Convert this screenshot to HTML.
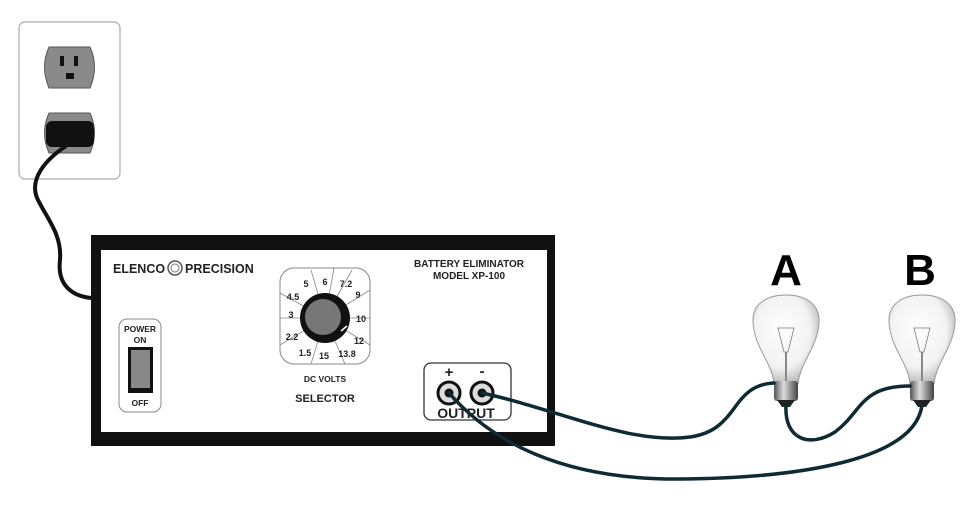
<!DOCTYPE html>
<html><head><style>
body{margin:0;background:#fff;width:977px;height:505px;overflow:hidden}
svg{display:block}
text{font-family:"Liberation Sans",sans-serif;font-weight:bold;fill:#222}
</style></head><body>
<svg width="977" height="505" viewBox="0 0 977 505">
<defs>
<radialGradient id="gl" cx="0.45" cy="0.4" r="0.6">
<stop offset="0" stop-color="#fff"/><stop offset="0.7" stop-color="#f2f2f2"/><stop offset="1" stop-color="#bbb"/>
</radialGradient>
<linearGradient id="bs" x1="0" x2="1"><stop offset="0" stop-color="#555"/><stop offset="0.4" stop-color="#ddd"/><stop offset="1" stop-color="#444"/></linearGradient>
</defs>
<!-- outlet -->
<rect x="19" y="22" width="101" height="157" rx="6" fill="#fff" stroke="#aaa" stroke-width="1.2"/>
<path d="M49,47 H90 Q99,67 90,88 H49 Q40,67 49,47Z" fill="#8a8a8a" stroke="#555"/>
<rect x="60" y="56" width="4" height="10" fill="#111"/><rect x="74" y="56" width="4" height="10" fill="#111"/>
<rect x="66" y="73" width="8" height="6" fill="#111"/>
<path d="M49,113 H90 Q99,133 90,153 H49 Q40,133 49,113Z" fill="#8a8a8a" stroke="#555"/>
<rect x="46" y="121" width="48" height="26" rx="6" fill="#111"/>
<path d="M66,146 C45,160 28,180 38,200 C48,220 62,235 60,260 C57,285 72,296 91,298" fill="none" stroke="#111" stroke-width="4"/>
<!-- box -->
<rect x="91" y="235" width="464" height="211" fill="#111"/>
<rect x="101" y="250" width="446" height="182" fill="#fff"/>
<text x="113" y="273" font-size="12.5">ELENCO</text>
<circle cx="175" cy="268" r="7" fill="none" stroke="#555" stroke-width="1.5"/><circle cx="175" cy="268" r="4" fill="none" stroke="#777"/>
<text x="185" y="273" font-size="12.5">PRECISION</text>
<text x="469" y="267" font-size="10" text-anchor="middle">BATTERY ELIMINATOR</text>
<text x="469" y="279" font-size="10" text-anchor="middle">MODEL XP-100</text>
<rect x="119" y="319" width="42" height="93" rx="8" fill="#fff" stroke="#888"/>
<text x="140" y="332" font-size="8.5" text-anchor="middle" font-weight="normal">POWER</text>
<text x="140" y="343" font-size="8.5" text-anchor="middle" font-weight="normal">ON</text>
<rect x="128" y="347" width="25" height="46" fill="#111"/><rect x="131" y="350" width="19" height="38" fill="#888"/>
<text x="140" y="406" font-size="8.5" text-anchor="middle" font-weight="normal">OFF</text>
<rect x="280" y="268" width="90" height="96" rx="14" fill="#fff" stroke="#888"/>
<g stroke="#888" stroke-width="0.8">
<line x1="325" y1="318" x2="311" y2="270"/><line x1="325" y1="318" x2="334" y2="268"/><line x1="325" y1="318" x2="352" y2="270"/>
<line x1="325" y1="318" x2="370" y2="290"/><line x1="325" y1="318" x2="370" y2="318"/><line x1="325" y1="318" x2="370" y2="345"/>
<line x1="325" y1="318" x2="345" y2="364"/><line x1="325" y1="318" x2="311" y2="364"/><line x1="325" y1="318" x2="280" y2="345"/>
<line x1="325" y1="318" x2="280" y2="318"/><line x1="325" y1="318" x2="280" y2="293"/>
</g>
<g font-size="9" text-anchor="middle">
<text x="306" y="287">5</text><text x="325" y="285">6</text><text x="346" y="287">7.2</text>
<text x="358" y="298">9</text><text x="361" y="322">10</text><text x="359" y="344">12</text>
<text x="347" y="357">13.8</text><text x="324" y="359">15</text><text x="305" y="356">1.5</text>
<text x="292" y="340">2.2</text><text x="291" y="318">3</text><text x="293" y="300">4.5</text>
</g>
<circle cx="325" cy="318" r="25" fill="#111"/><circle cx="323" cy="317" r="18" fill="#777"/>
<line x1="341" y1="331" x2="347" y2="326" stroke="#fff" stroke-width="1.5"/>
<text x="325" y="382" font-size="8.5" text-anchor="middle">DC VOLTS</text>
<text x="325" y="402" font-size="11" text-anchor="middle">SELECTOR</text>
<rect x="424" y="363" width="87" height="57" rx="7" fill="#fff" stroke="#333" stroke-width="1.3"/>
<text x="449" y="377" font-size="15" text-anchor="middle">+</text>
<text x="482" y="376" font-size="15" text-anchor="middle">-</text>
<text x="466" y="418" font-size="14" text-anchor="middle">OUTPUT</text>
<circle cx="449" cy="393" r="11" fill="#ddd" stroke="#111" stroke-width="3"/><circle cx="449" cy="393" r="4.5" fill="#111"/>
<circle cx="482" cy="393" r="11" fill="#ddd" stroke="#111" stroke-width="3"/><circle cx="482" cy="393" r="4.5" fill="#111"/>
<!-- bulbs -->
<g id="bulb">
<path d="M774,384 C772,362 754,347 753,322 C752,303 768,295 786,295 C804,295 820,303 819,322 C818,347 800,362 798,384Z" fill="url(#gl)" stroke="#999"/>
<path d="M778,328 L794,328 L788,352 L784,352Z" fill="none" stroke="#777" stroke-width="0.8"/>
<line x1="786" y1="352" x2="786" y2="382" stroke="#888" stroke-width="2"/>
<rect x="774" y="381" width="24" height="20" rx="3" fill="url(#bs)"/>
<path d="M777,400 L795,400 L790,407 L782,407Z" fill="#222"/>
</g>
<use href="#bulb" x="136"/>
<text x="786" y="285" font-size="44" text-anchor="middle" style="fill:#000">A</text>
<text x="920" y="285" font-size="44" text-anchor="middle" style="fill:#000">B</text>
<!-- wires -->
<g fill="none" stroke="#0f2a33" stroke-width="3.5" stroke-linecap="round">
<path d="M482,393 C560,410 630,445 690,437 C740,430 730,385 774,383"/>
<path d="M786,405 C784,440 810,448 835,432 C862,412 860,386 910,386"/>
<path d="M449,393 C490,440 560,480 680,479 C800,478 915,460 922,405"/>
</g>
</svg>
</body></html>
